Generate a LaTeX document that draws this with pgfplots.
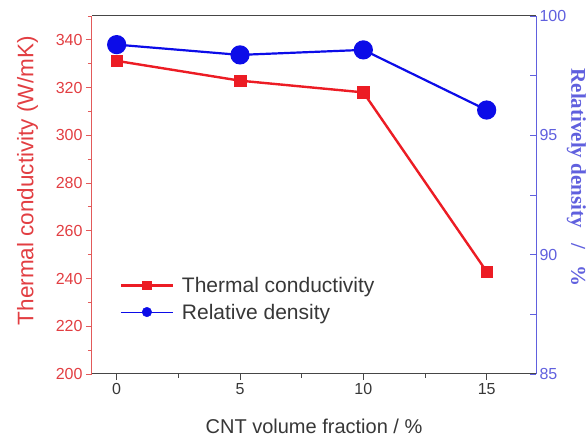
\documentclass[border=0pt]{standalone}
\usepackage{fontspec}
\setmainfont{Liberation Sans}
\newfontfamily\timesfont{Liberation Serif}
\usepackage{pgfplots}
\pgfplotsset{compat=1.18}
\definecolor{tcred}{RGB}{236,28,36}
\definecolor{labred}{RGB}{226,62,66}
\definecolor{axred}{RGB}{226,90,90}
\definecolor{dblue}{RGB}{12,12,232}
\definecolor{axblue}{RGB}{96,96,222}
\definecolor{axgray}{RGB}{70,70,70}
\definecolor{txtgray}{RGB}{55,55,55}
\pgfplotstableread{
x y
0 331.2
5 322.9
10 318.0
15 242.9
}\tctable
\pgfplotstableread{
x y
0 98.80
5 98.37
10 98.58
15 96.06
}\rdtable
\begin{document}
\begin{tikzpicture}
\begin{axis}[
  scale only axis, width=444pt, height=358pt,
  xmin=-1, xmax=17, ymin=200, ymax=350,
  axis x line*=box, axis y line*=left,
  x axis line style={axgray, line width=1pt},
  y axis line style={axred, line width=1pt},
  xtick={0,5,10,15}, minor xtick={2.5,7.5,12.5},
  ytick={200,220,...,340}, minor ytick={210,230,...,330,350},
  xtick pos=bottom, ytick pos=left,
  tick align=outside,
  major tick length=6pt, minor tick length=4pt,
  x tick style={axgray, line width=0.9pt},
  y tick style={axred, line width=0.9pt},
  /pgf/number format/assume math mode=true,
  x tick label style={font=\fontsize{16}{16}\selectfont, text=txtgray},
  y tick label style={font=\fontsize{16}{16}\selectfont, text=labred},
  xlabel={CNT volume fraction / \%},
  xlabel style={font=\fontsize{20}{22}\selectfont, text=txtgray, at={(axis description cs:0.5,-0.115)}, anchor=north},
  ylabel={Thermal conductivity (W/mK)},
  ylabel style={font=\fontsize{22.5}{24}\selectfont, text=labred, at={(axis description cs:-0.145,0.54)}, anchor=center, rotate=0},
  legend style={at={(axis description cs:0.062,0.274)}, anchor=north west, draw=none, fill=none,
    font=\fontsize{21}{23}\selectfont, text=txtgray, row sep=8pt, inner sep=0pt,
    nodes={inner sep=1pt, anchor=base west}},
  legend cell align=left,
  clip=false,
]
\addplot[tcred, line width=2.4pt, mark=square*, mark size=5.8pt, mark options={solid, fill=tcred, draw=tcred, line width=0.5pt},
  legend image code/.code={\draw[tcred, line width=2.4pt] (0pt,7pt) -- (52pt,7pt); \fill[tcred] (22pt,3.5pt) rectangle (30pt,10.5pt); \path[draw=none] (0pt,0pt) -- (60pt,0pt);}] table[x=x,y=y]{\tctable};
\addlegendentry{Thermal conductivity}
\addlegendimage{legend image code/.code={\draw[dblue, line width=0.8pt] (0pt,7pt) -- (52pt,7pt); \fill[dblue] (26pt,7pt) circle (4.8pt); \path[draw=none] (0pt,0pt) -- (60pt,0pt);}}
\addlegendentry{Relative density}
\end{axis}
\begin{axis}[
  scale only axis, width=444pt, height=358pt,
  xmin=-1, xmax=17, ymin=85, ymax=100,
  axis x line=none, axis y line*=right,
  y axis line style={axblue, line width=1pt},
  ytick={85,90,95,100}, minor ytick={87.5,92.5,97.5},
  ytick pos=right, tick align=inside,
  major tick length=6pt, minor tick length=6pt,
  y tick style={axblue, line width=0.9pt},
  /pgf/number format/assume math mode=true,
  y tick label style={font=\fontsize{16}{16}\selectfont, text=axblue},
  ylabel={\timesfont\bfseries Relatively density\hspace{0.75em}/\hspace{0.75em}\%},
  ylabel style={font=\fontsize{21}{23}\selectfont, text=axblue, at={(axis description cs:1.091,0.549)}, anchor=center, rotate=180},
  clip=false,
]
\addplot[dblue, line width=2.2pt, mark=*, mark size=8.5pt, mark options={solid, fill=dblue, draw=dblue}] table[x=x,y=y]{\rdtable};
\end{axis}
\pgfresetboundingbox
\useasboundingbox (-92pt,-67pt) rectangle (495pt,374pt);
\end{tikzpicture}
\end{document}
